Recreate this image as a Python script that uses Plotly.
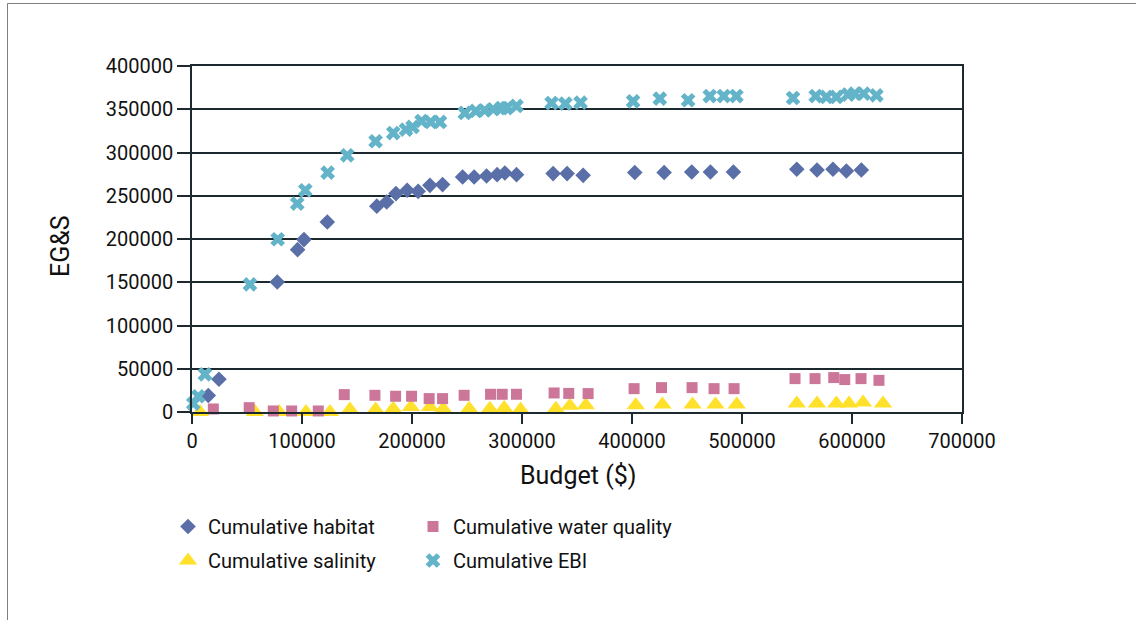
import plotly.graph_objects as go

# ---- data (budget $, EG&S) ----
habitat_x = [14800, 24500, 77500, 96000, 101800, 123000, 168000, 177000, 185400, 195600, 205600,
             216300, 227800, 246000, 256500, 267800, 277400, 284400, 295000, 328300, 341000,
             355600, 402500, 429200, 454300, 471300, 492200, 549800, 568200, 582700, 594900, 608500]
habitat_y = [19000, 37800, 150300, 187700, 199300, 219700, 238000, 242800, 252500, 256300, 255100,
             262000, 262900, 271700, 271700, 272800, 274400, 276300, 274400, 275600, 275600,
             273600, 276800, 276800, 277500, 277500, 277500, 280600, 279800, 280600, 278600, 279800]

water_x = [19400, 52000, 73900, 90600, 114800, 138400, 166300, 185100, 199600, 215600, 227800,
           247400, 271400, 282000, 295000, 329200, 342500, 360100, 401900, 426800, 454600, 474600,
           492800, 548200, 566400, 583400, 593400, 608200, 624500]
water_y = [3500, 5000, 1200, 1200, 1200, 20100, 19300, 18200, 18200, 15500, 15500,
           19300, 20500, 20500, 20500, 22000, 21500, 21300, 27000, 28200, 28200, 27000,
           27000, 38600, 38600, 39800, 37500, 38600, 36600]

salinity_x = [7300, 57200, 79300, 103600, 125400, 143600, 166900, 182900, 199000, 216300, 228400,
              252000, 270800, 283800, 298700, 330800, 343500, 358000, 403400, 427700, 455000,
              475900, 495200, 549800, 568200, 585800, 597300, 610000, 628200]
salinity_y = [0, 0, 0, 0, 0, 2800, 2800, 3900, 5800, 5800, 3900,
              3900, 3900, 4600, 2800, 3900, 7200, 7700, 7700, 8600, 8600,
              8600, 8600, 9700, 9700, 9700, 9700, 10900, 9700]

ebi_x = [1200, 5700, 11800, 52700, 77900, 95700, 103000, 123300, 141100, 166900, 183000,
         194500, 200500, 208700, 217000, 225400, 248000, 258000, 266000, 273800, 281400,
         286000, 295000, 326900, 339400, 353200, 401000, 425300, 451000, 470700, 483400,
         494900, 546400, 567000, 576700, 585800, 596400, 602500, 610600, 622200]
ebi_y = [9700, 18200, 43600, 147600, 199700, 240900, 256300, 276800, 296800, 313000, 322500,
         326500, 329500, 336400, 335300, 335300, 345700, 348000, 348800, 350000, 351400,
         351400, 353800, 357200, 356500, 357700, 359200, 362300, 360400, 365300, 365300,
         365300, 363000, 365300, 364200, 364200, 367000, 368100, 368100, 366100]

x_ticks = [0, 100000, 200000, 300000, 400000, 500000, 600000, 700000]
y_ticks = [0, 50000, 100000, 150000, 200000, 250000, 300000, 350000, 400000]

FONT = "Roboto"
INK = "#111111"
GRID = "#1c2a30"

fig = go.Figure()

fig.add_trace(go.Scatter(x=habitat_x, y=habitat_y, mode="markers", name="Cumulative habitat",
                         marker=dict(symbol="diamond", size=12, color="#5a6fa8"),
                         cliponaxis=False, legend="legend", legendgroup="a"))
fig.add_trace(go.Scatter(x=salinity_x, y=salinity_y, mode="markers", name="Cumulative salinity",
                         marker=dict(symbol="triangle-up", size=16, color="#ffe12b"),
                         cliponaxis=False, legend="legend", legendgroup="b"))
fig.add_trace(go.Scatter(x=water_x, y=water_y, mode="markers", name="Cumulative water quality",
                         marker=dict(symbol="square", size=11, color="#cc7799"),
                         cliponaxis=False, legend="legend2", legendgroup="c"))
fig.add_trace(go.Scatter(x=ebi_x, y=ebi_y, mode="markers", name="Cumulative EBI",
                         marker=dict(symbol="x", size=13, color="#63b3c9"),
                         cliponaxis=False, legend="legend2", legendgroup="d"))

L, R, T, B = 192, 174, 66, 208
W, H = 1136, 620
pw, ph = W - L - R, H - T - B


def px_x(p):
    return (p - L) / pw


def px_y(p):
    return (H - B - p) / ph


legend_common = dict(font=dict(family=FONT, size=20, color=INK),
                     bgcolor="rgba(0,0,0,0)",
                     xanchor="left", yanchor="top", tracegroupgap=5)

fig.update_layout(
    width=W, height=H,
    margin=dict(l=L, r=R, t=T, b=B),
    paper_bgcolor="white", plot_bgcolor="white",
    font=dict(family=FONT, size=20, color=INK),
    showlegend=True,
    legend=dict(x=px_x(168), y=px_y(507), **legend_common),
    legend2=dict(x=px_x(413), y=px_y(507), **legend_common),
    xaxis=dict(range=[0, 700000], tickvals=x_ticks, tickformat="d",
               showgrid=False, zeroline=False,
               showline=True, linecolor=GRID, linewidth=1.5, mirror=True,
               ticks="outside", ticklen=10, tickwidth=1.5, tickcolor=GRID,
               tickfont=dict(family=FONT, size=20, color=INK)),
    yaxis=dict(range=[0, 400000], tickvals=y_ticks, tickformat="d",
               showgrid=True, gridcolor=GRID, gridwidth=1.5, zeroline=False,
               showline=True, linecolor=GRID, linewidth=1.5, mirror=True,
               ticks="outside", ticklen=13, tickwidth=1.5, tickcolor=GRID,
               tickfont=dict(family=FONT, size=20, color=INK)),
    annotations=[
        dict(text="Budget ($)", xref="paper", yref="paper", x=px_x(578), y=px_y(476),
             showarrow=False, xanchor="center", yanchor="middle",
             font=dict(family=FONT, size=25, color=INK)),
        dict(text="EG&amp;S", xref="paper", yref="paper", x=px_x(60), y=px_y(246),
             showarrow=False, xanchor="center", yanchor="middle", textangle=-90,
             font=dict(family=FONT, size=25, color=INK)),
    ],
    shapes=[
        dict(type="line", xref="paper", yref="paper", x0=px_x(7.5), x1=px_x(1140),
             y0=px_y(3.5), y1=px_y(3.5), line=dict(color="#808080", width=1)),
        dict(type="line", xref="paper", yref="paper", x0=px_x(7.5), x1=px_x(7.5),
             y0=px_y(3.5), y1=px_y(630), line=dict(color="#808080", width=1)),
    ],
)

fig.write_html("out.html", config={"displayModeBar": False},
               post_script="document.body.style.margin='0';document.body.style.overflow='hidden';")
